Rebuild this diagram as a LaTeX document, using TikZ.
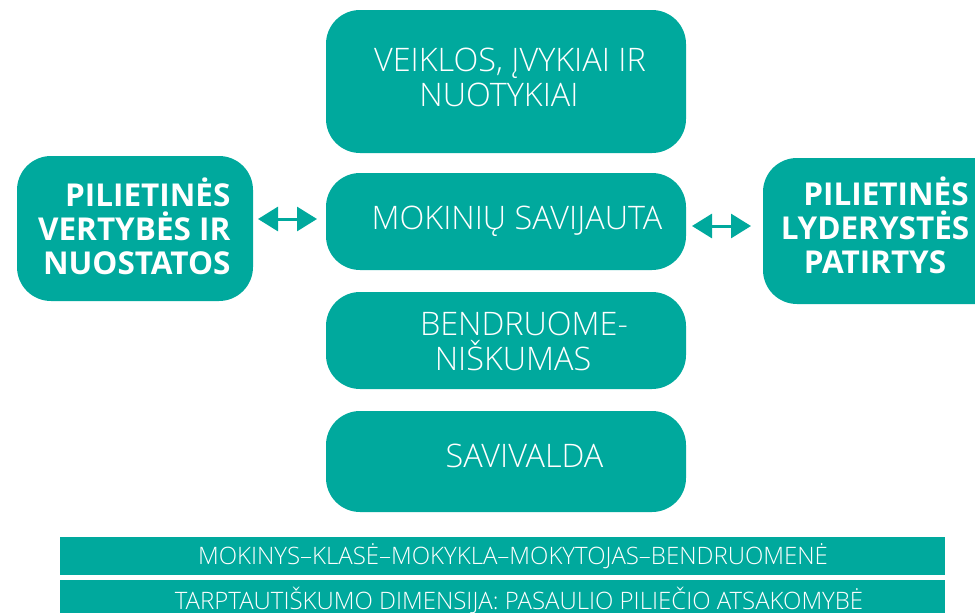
\documentclass[tikz,border=0pt]{standalone}
\usepackage{fontspec}
\setmainfont{Open Sans}
\newfontfamily\oslight{Open Sans Light}
\usetikzlibrary{arrows.meta}
\definecolor{teal1}{HTML}{00A99D}
\begin{document}
\begin{tikzpicture}[x=1pt,y=-1pt,
  box/.style={fill=teal1,rounded corners=34pt,inner sep=0pt},
  thin/.style={text=white,font=\oslight\fontsize{32.4}{35}\selectfont,align=center},
  boldt/.style={text=white,font=\bfseries\fontsize{31.5}{34}\selectfont},
  barbox/.style={fill=teal1,inner sep=0pt},
  bart/.style={text=white,font=\oslight\fontsize{24}{26}\selectfont},
  dblarrow/.style={teal1,line width=3pt,{Triangle[length=20pt,width=24pt]}-{Triangle[length=20pt,width=24pt]}}]
\useasboundingbox (0,0) rectangle (975,613);
% boxes
\fill[box] (326,10) rectangle (686,153);
\node[thin] (t1) at (510,77) {VEIKLOS, ĮVYKIAI IR\\NUOTYKIAI\hspace*{22pt}};
\fill[box] (326,173) rectangle (686,270);
\node[thin] (t2) at (517,221) {MOKINIŲ SAVIJAUTA};
\fill[box] (326,292) rectangle (686,389);
\node[thin] (t3) at (524,341) {BENDRUOME-\\NIŠKUMAS\hspace*{22pt}};
\fill[box] (326,411) rectangle (686,512);
\node[thin] (t4) at (524.5,456) {SAVIVALDA};
\fill[box] (17,156) rectangle (253,301);
\node[boldt,align=right,anchor=east] (tl) at (234,226) {PILIETINĖS\\VERTYBĖS IR\\NUOSTATOS};
\fill[box] (763,158) rectangle (1010,304);
\node[boldt,align=center] (tr) at (875,225) {\hspace*{22pt}PILIETINĖS\\LYDERYSTĖS\\PATIRTYS};
% arrows
\coordinate (la) at (258,219);
\coordinate (lb) at (317,219);
\coordinate (ra) at (692,226);
\coordinate (rb) at (751,226);
\draw[dblarrow] (la) -- (lb);
\draw[dblarrow] (ra) -- (rb);
% bars
\fill[barbox] (60,537) rectangle (945,575);
\node[bart] (b1) at (513,556) {MOKINYS–KLASĖ–MOKYKLA–MOKYTOJAS–BENDRUOMENĖ};
\fill[barbox] (60,580) rectangle (945,620);
\node[bart] (b2) at (519,600) {TARPTAUTIŠKUMO DIMENSIJA: PASAULIO PILIEČIO ATSAKOMYBĖ};
\end{tikzpicture}
\end{document}
